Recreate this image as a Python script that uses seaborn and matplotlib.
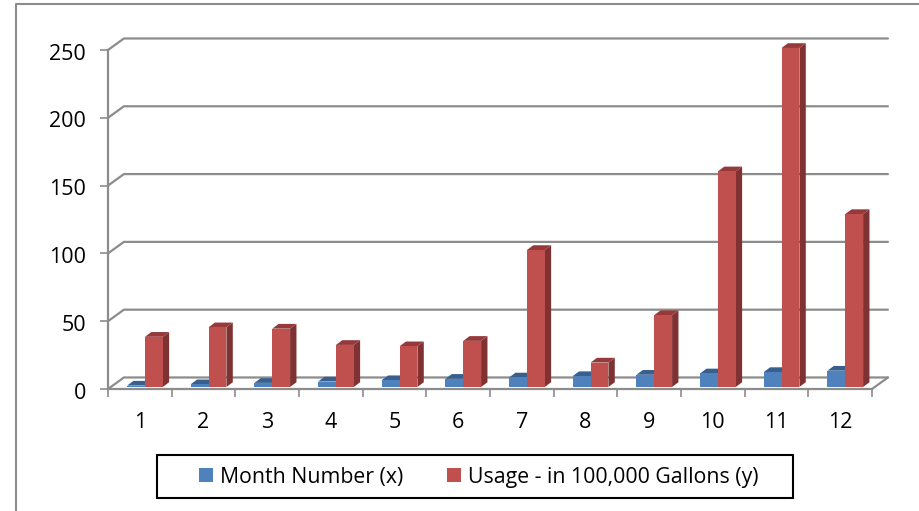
import matplotlib
matplotlib.use('Agg')
import matplotlib.pyplot as plt
from matplotlib.lines import Line2D
from matplotlib.patches import Polygon, Rectangle
from matplotlib.transforms import ScaledTranslation
import pandas as pd
import seaborn as sns

months = ['1', '2', '3', '4', '5', '6', '7', '8', '9', '10', '11', '12']
month_number = [1, 2, 3, 4, 5, 6, 7, 8, 9, 10, 11, 12]
usage = [37, 44, 43, 31, 30, 34, 101, 18, 53, 159, 250, 127.5]
y_ticks = [0, 50, 100, 150, 200, 250]
series_names = ['Month Number (x)', 'Usage - in 100,000 Gallons (y)']

sns.set_theme(style='white')
plt.rcParams['font.family'] = ['Open Sans', 'DejaVu Sans']

GRAY = '#8c8c8c'
W, H = 919, 511

df = pd.DataFrame({'month': months, series_names[0]: month_number, series_names[1]: usage})
long_df = df.melt(id_vars='month', var_name='series', value_name='value')

fig = plt.figure(figsize=(W / 100, H / 100), dpi=100)
ax = fig.add_axes([108 / W, 1 - 389 / H, 764 / W, 339 / H])
ax.patch.set_alpha(0)

sns.barplot(data=long_df, x='month', y='value', hue='series', order=months,
            palette=['#4f81bd', '#c0504d'], width=0.56, gap=0, saturation=1,
            linewidth=0, errorbar=None, ax=ax)
ax.set_xlim(-0.5, 11.5)
ax.set_ylim(0, 250)
ax.set_xlabel('')
ax.set_ylabel('')

# 뒷벽 격자선 + 왼쪽 대각선 (3D 느낌)
wall_dx, wall_dy = 0.25, 8.5
left, right = -0.5, 11.5
for t in y_ticks:
    ax.plot([left, left + wall_dx, right + wall_dx], [t, t + wall_dy, t + wall_dy],
            color=GRAY, lw=1.6, clip_on=False, zorder=1, solid_joinstyle='miter')
# 바닥 오른쪽 대각선
ax.plot([right, right + wall_dx], [0, wall_dy], color=GRAY, lw=1.6, clip_on=False, zorder=1)

# 막대를 바닥 가운데로 옮기고 옆면, 윗면을 붙인다
shift_x, shift_y = 0.08, 1.5
bar_dx, bar_dy = 0.1, 3.5
side_colors = ['#2f5480', '#7f3231']
top_colors = ['#38608f', '#96393a']
for i, bars in enumerate(ax.containers):
    for bar in bars:
        bar.set_x(bar.get_x() + shift_x)
        bar.set_y(shift_y)
        bar.set_zorder(3.5 + i)
        bar.set_clip_on(False)
        x0, w, y0, h = bar.get_x(), bar.get_width(), bar.get_y(), bar.get_height()
        x1, y1 = x0 + w, y0 + h
        ax.add_patch(Polygon([(x1, y0), (x1 + bar_dx, y0 + bar_dy), (x1 + bar_dx, y1 + bar_dy), (x1, y1)],
                             facecolor=side_colors[i], lw=0, zorder=3 + i, clip_on=False))
        ax.add_patch(Polygon([(x0, y1), (x0 + bar_dx, y1 + bar_dy), (x1 + bar_dx, y1 + bar_dy), (x1, y1)],
                             facecolor=top_colors[i], lw=0, zorder=3 + i, clip_on=False))

# 축과 눈금
sns.despine(ax=ax, top=True, right=True)
for side in ['left', 'bottom']:
    ax.spines[side].set_color(GRAY)
    ax.spines[side].set_linewidth(1.6)
    ax.spines[side].set_zorder(2)
ax.set_yticks(y_ticks)
ax.set_xticks([i - 0.5 for i in range(13)])
ax.set_xticklabels([])
ax.set_xticks(range(12), labels=months, minor=True)
ax.tick_params(axis='x', which='major', bottom=True, length=6, width=1.2, color=GRAY)
ax.tick_params(axis='x', which='minor', bottom=False, length=0, pad=16.5, labelsize=15.5, labelcolor='black')
ax.tick_params(axis='y', left=True, length=6, width=1.2, color=GRAY, pad=10, labelsize=15.5, labelcolor='black')
# y 눈금 글자를 조금 아래로
for label in ax.get_yticklabels():
    label.set_transform(label.get_transform() + ScaledTranslation(0, -1.5 / 100, fig.dpi_scale_trans))

# 범례 - 상자는 따로 그린다 (좌우 여백이 위아래보다 훨씬 넓다)
handles, labels = ax.get_legend_handles_labels()
ax.get_legend().remove()
fig.add_artist(Rectangle((156.5 / W, 1 - 498 / H), 636.5 / W, 43 / H, transform=fig.transFigure,
                         facecolor='white', edgecolor='black', lw=1.5))
fig.legend(handles, labels, ncol=2, loc='center', bbox_to_anchor=(478.5 / W, 1 - 477 / H),
           frameon=False, fontsize=15.3, labelcolor='black',
           handlelength=0.66, handleheight=0.66, handletextpad=0.33, columnspacing=2.07,
           borderpad=0, borderaxespad=0)

# 바깥 테두리 (왼쪽, 위)
fig.add_artist(Line2D([15.5 / W, 15.5 / W, 1], [0, 1 - 4 / H, 1 - 4 / H], color=GRAY, lw=1.5))

fig.savefig('out.png', dpi=100)
